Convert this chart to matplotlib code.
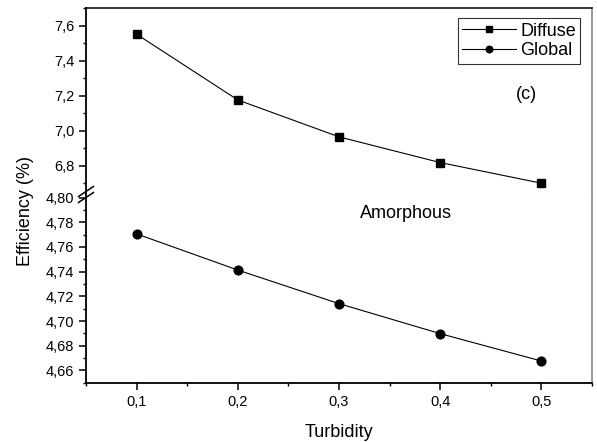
import numpy as np
import matplotlib
matplotlib.use('Agg')
import matplotlib.pyplot as plt
from matplotlib.ticker import MultipleLocator, FuncFormatter

plt.rcParams['font.family'] = ['Liberation Sans', 'DejaVu Sans']

# data
turbidity = [0.1, 0.2, 0.3, 0.4, 0.5]
diffuse = [7.553, 7.177, 6.966, 6.819, 6.701]
global_eff = [4.7706, 4.7413, 4.7141, 4.6898, 4.6676]

fig = plt.figure(figsize=(5.97, 4.42), dpi=100)
gs = fig.add_gridspec(2, 1, left=0.144, right=0.9916, top=0.982, bottom=0.134,
                      hspace=0, height_ratios=[186, 189])
ax_top = fig.add_subplot(gs[0])
ax_bot = fig.add_subplot(gs[1], sharex=ax_top)

l1, = ax_top.plot(turbidity, diffuse, color='black', lw=0.8, marker='s', ms=6,
                  label='Diffuse')
l2, = ax_bot.plot(turbidity, global_eff, color='black', lw=0.8, marker='o', ms=6.3,
                  label='Global')

ax_top.set_ylim(6.64, 7.703)
ax_bot.set_ylim(4.65, 4.803)
ax_bot.set_xlim(0.05, 0.55)

# spines
ax_top.spines['bottom'].set_visible(False)
ax_bot.spines['top'].set_visible(False)
for ax in (ax_top, ax_bot):
    ax.spines['right'].set_color('#888888')
    ax.spines['right'].set_linewidth(1.2)
    ax.spines['left'].set_linewidth(1.3)
ax_top.spines['top'].set_linewidth(1.1)
ax_bot.spines['bottom'].set_linewidth(1.3)

# ticks
ax_top.yaxis.set_major_locator(MultipleLocator(0.2))
ax_top.yaxis.set_minor_locator(MultipleLocator(0.1))
ax_bot.yaxis.set_major_locator(MultipleLocator(0.02))
ax_bot.yaxis.set_minor_locator(MultipleLocator(0.01))
ax_bot.xaxis.set_major_locator(MultipleLocator(0.1))
ax_bot.xaxis.set_minor_locator(MultipleLocator(0.05))

ax_top.yaxis.set_major_formatter(FuncFormatter(lambda v, p: f'{v:.1f}'.replace('.', ',')))
ax_bot.yaxis.set_major_formatter(FuncFormatter(lambda v, p: f'{v:.2f}'.replace('.', ',')))
ax_bot.xaxis.set_major_formatter(FuncFormatter(lambda v, p: f'{v:.1f}'.replace('.', ',')))

for ax in (ax_top, ax_bot):
    ax.tick_params(which='major', direction='out', length=5, width=1.1, labelsize=10.5,
                   right=False, top=False)
    ax.tick_params(which='minor', direction='out', length=2.5, width=1.0,
                   right=False, top=False)
ax_top.tick_params(axis='x', which='both', bottom=False, labelbottom=False)

# break marks on the left axis
dx = 7.5 / 597
dy = 5 / 442
kw = dict(transform=fig.transFigure, color='black', lw=1.1, clip_on=False)
xb = 0.144
yb = 1 - 194.5 / 442
for off in (-3 / 442, 3 / 442):
    fig.add_artist(plt.Line2D([xb - dx, xb + dx], [yb + off - dy, yb + off + dy], **kw))

ax_bot.set_xlabel('Turbidity', fontsize=13, labelpad=11)
fig.text(0.042, 1 - 211 / 442, 'Efficiency (%)', rotation=90, va='center', ha='center',
         fontsize=13)

ax_bot.text(0.366, 4.787, 'Amorphous', fontsize=13, ha='center', va='center')
ax_top.text(0.485, 7.21, '(c)', fontsize=13, ha='center', va='center')

leg = ax_top.legend(handles=[l1, l2], loc='upper right', bbox_to_anchor=(0.977, 0.946),
                    fontsize=13, frameon=True, fancybox=False, borderpad=0.25,
                    handlelength=3.0, handletextpad=0.2, labelspacing=0.15,
                    borderaxespad=0, markerscale=0.75)
leg.get_frame().set_edgecolor('black')
leg.get_frame().set_linewidth(0.8)

fig.savefig('out.png', dpi=100)
